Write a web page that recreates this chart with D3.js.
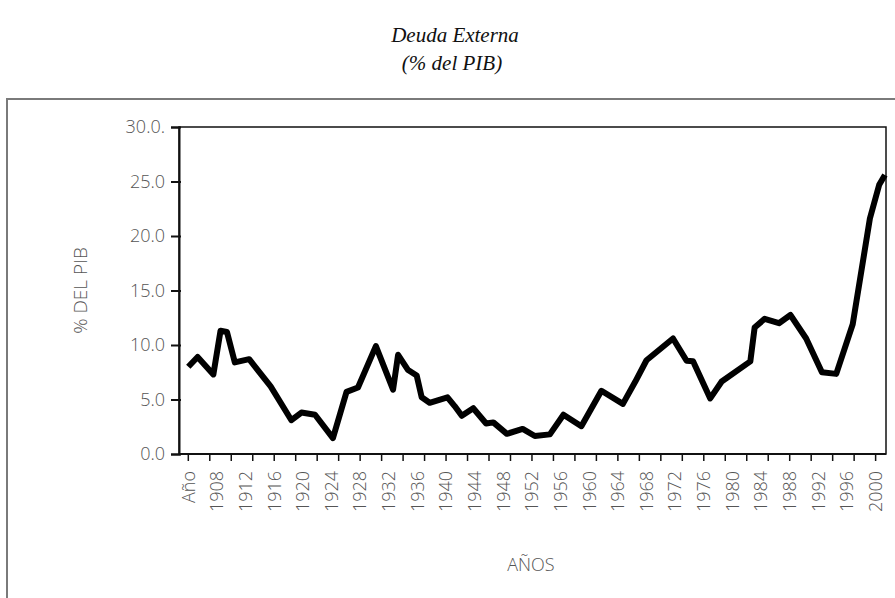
<!DOCTYPE html>
<html lang="es">
<head>
<meta charset="UTF-8">
<title>Deuda Externa (% del PIB)</title>
<style>
  body { margin: 0; background: #fff; }
  .title { font-family: "Liberation Serif", serif; font-style: italic; font-size: 21px; fill: #111; }
  .lbl { font-family: "Open Sans", sans-serif; font-weight: 300; fill: #555; }
</style>
</head>
<body>
<svg id="chart" width="895" height="598"></svg>
<script src="https://d3js.org/d3.v7.min.js"></script>
<script>
// vertices of the line (first point sits on the "Año" category)
const years = [1904, 1905.3, 1907.5, 1908.5, 1909.4, 1910.5, 1912.5, 1915.5, 1918.4, 1919.8,
  1921.7, 1924.2, 1926.1, 1927.7, 1930.2, 1932.6, 1933.3, 1934.7, 1935.9, 1936.6,
  1937.7, 1940.2, 1941.2, 1942.2, 1943.8, 1945.6, 1946.6, 1948.5, 1950.7, 1952.4,
  1954.5, 1956.4, 1958.9, 1961.7, 1964.7, 1966.4, 1968.0, 1971.7, 1973.6, 1974.5,
  1976.9, 1978.5, 1982.5, 1983.1, 1984.5, 1986.5, 1988.1, 1990.3, 1992.5, 1994.5,
  1996.8, 1999.2, 2000.5, 2001.3];
const deuda = [8.0, 8.9, 7.3, 11.3, 11.2, 8.4, 8.7, 6.2, 3.1, 3.8,
  3.6, 1.45, 5.7, 6.1, 9.9, 5.9, 9.1, 7.7, 7.2, 5.2,
  4.7, 5.2, 4.4, 3.5, 4.2, 2.8, 2.9, 1.85, 2.3, 1.65,
  1.8, 3.6, 2.55, 5.8, 4.6, 6.6, 8.6, 10.6, 8.55, 8.5,
  5.1, 6.65, 8.5, 11.6, 12.4, 12.0, 12.75, 10.6, 7.5, 7.35,
  11.9, 21.6, 24.7, 25.6];

const yTicks = [0, 5, 10, 15, 20, 25, 30];
const yTickLabels = ["0.0", "5.0", "10.0", "15.0", "20.0", "25.0", "30.0."];
const xLabelYears = [1904, 1908, 1912, 1916, 1920, 1924, 1928, 1932, 1936, 1940, 1944, 1948,
  1952, 1956, 1960, 1964, 1968, 1972, 1976, 1980, 1984, 1988, 1992, 1996, 2000];
const xLabels = ["Año", "1908", "1912", "1916", "1920", "1924", "1928", "1932", "1936", "1940",
  "1944", "1948", "1952", "1956", "1960", "1964", "1968", "1972", "1976", "1980", "1984",
  "1988", "1992", "1996", "2000"];
const xTickYears = d3.range(1904, 2001, 3);

const svg = d3.select("#chart");
const plot = { left: 179, right: 886, top: 127, bottom: 454 };

const x = d3.scaleLinear().domain([1902.7, 2001.45]).range([plot.left, plot.right]);
const y = d3.scaleLinear().domain([0, 30]).range([plot.bottom, plot.top]);

// outer frame (cut off at right and bottom)
svg.append("rect")
  .attr("x", 7).attr("y", 99)
  .attr("width", 900).attr("height", 520)
  .attr("fill", "none").attr("stroke", "#7a7a7a").attr("stroke-width", 2);

// title
svg.append("text").attr("class", "title")
  .attr("x", 455).attr("y", 42).attr("text-anchor", "middle").text("Deuda Externa");
svg.append("text").attr("class", "title")
  .attr("x", 452).attr("y", 70).attr("text-anchor", "middle").text("(% del PIB)");

// plot box
svg.append("rect")
  .attr("x", plot.left).attr("y", plot.top)
  .attr("width", plot.right - plot.left).attr("height", plot.bottom - plot.top)
  .attr("fill", "none").attr("stroke", "#111").attr("stroke-width", 1.5);

// y axis
const yAxis = d3.axisLeft(y).tickValues(yTicks).tickSize(8).tickPadding(6)
  .tickFormat((d, i) => yTickLabels[i]);
const gy = svg.append("g").attr("transform", `translate(${plot.left},0)`).call(yAxis);
gy.select(".domain").attr("stroke", "#111").attr("stroke-width", 2);
gy.selectAll(".tick line").attr("stroke", "#111").attr("stroke-width", 2)
  .attr("x2", -8).attr("x1", 2);
gy.selectAll(".tick text").attr("class", "lbl").style("font-size", "18px");

// x axis ticks
const gx = svg.append("g").attr("transform", `translate(0,${plot.bottom})`);
gx.append("line").attr("x1", plot.left).attr("x2", plot.right)
  .attr("stroke", "#111").attr("stroke-width", 2);
gx.selectAll("line.tk").data(xTickYears).enter().append("line")
  .attr("class", "tk")
  .attr("x1", d => x(d)).attr("x2", d => x(d))
  .attr("y1", 0).attr("y2", 7)
  .attr("stroke", "#111").attr("stroke-width", 1.5);
gx.selectAll("text").data(xLabelYears).enter().append("text")
  .attr("class", "lbl")
  .style("font-size", "18px")
  .attr("text-anchor", "end")
  .attr("dy", "0.35em")
  .attr("transform", d => `translate(${x(d)},17) rotate(-90)`)
  .text((d, i) => xLabels[i]);

// axis titles
svg.append("text").attr("class", "lbl").style("font-size", "19px")
  .attr("text-anchor", "middle")
  .attr("transform", `translate(80,${(plot.top + plot.bottom) / 2}) rotate(-90)`)
  .attr("dy", "0.35em")
  .text("% DEL PIB");
svg.append("text").attr("class", "lbl").style("font-size", "18px")
  .attr("text-anchor", "middle")
  .attr("x", 531).attr("y", 571)
  .text("AÑOS");

// data line
const line = d3.line().x((d, i) => x(years[i])).y(d => y(d));
svg.append("path")
  .datum(deuda)
  .attr("d", line)
  .attr("fill", "none")
  .attr("stroke", "#000")
  .attr("stroke-width", 6)
  .attr("stroke-linejoin", "round");
</script>
</body>
</html>
